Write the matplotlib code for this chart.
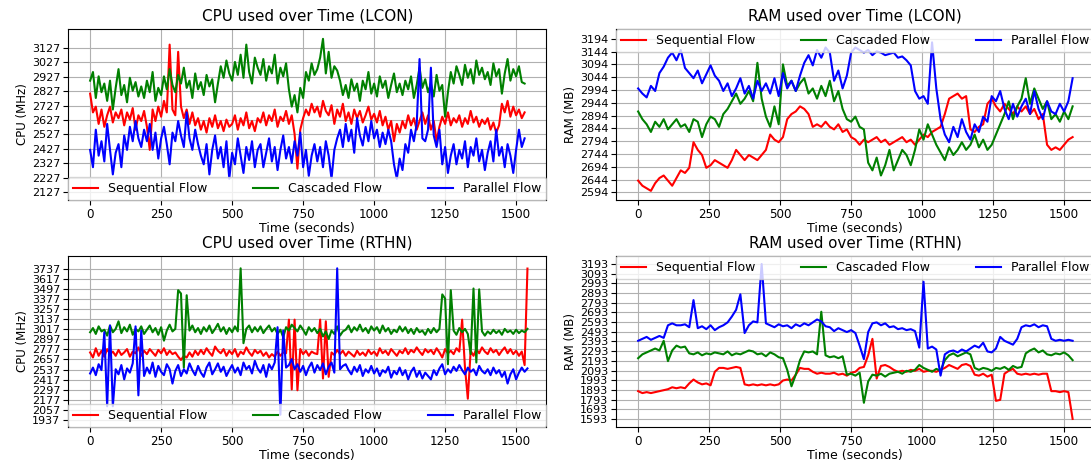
import numpy as np
import matplotlib
matplotlib.use('Agg')
import matplotlib.pyplot as plt

cpu_step = 10
ram_step = 15

# ---- LCON CPU (MHz)
cpu_lcon_seq = [
    2810, 2680, 2720, 2600, 2700, 2580, 2660, 2720, 2610, 2680,
    2640, 2700, 2590, 2680, 2630, 2710, 2560, 2660, 2620, 2690,
    2580, 2420, 2700, 2620, 2720, 2650, 2760, 2680, 3150, 2700,
    2660, 3100, 2720, 2640, 2700, 2600, 2680, 2590, 2640, 2560,
    2620, 2540, 2640, 2580, 2660, 2570, 2620, 2550, 2630, 2580,
    2600, 2660, 2560, 2640, 2590, 2680, 2570, 2620, 2550, 2640,
    2610, 2680, 2590, 2660, 2620, 2700, 2580, 2650, 2620, 2690,
    2600, 2660, 2530, 2290, 2560, 2640, 2700, 2660, 2740, 2680,
    2720, 2650, 2760, 2690, 2660, 2730, 2600, 2700, 2650, 2740,
    2620, 2680, 2600, 2700, 2640, 2690, 2610, 2660, 2720, 2630,
    2670, 2610, 2690, 2590, 2650, 2560, 2620, 2480, 2600, 2540,
    2620, 2570, 2660, 2590, 2640, 2560, 2620, 2680, 2600, 2660,
    2560, 2620, 2480, 2580, 2650, 2600, 2680, 2590, 2640, 2610,
    2660, 2580, 2640, 2600, 2690, 2610, 2650, 2580, 2630, 2600,
    2640, 2560, 2610, 2540, 2590, 2740, 2680, 2760, 2650, 2720,
    2660, 2700, 2640, 2680]
cpu_lcon_cas = [
    2900, 2960, 2780, 2930, 2820, 2880, 2760, 2900, 2700, 2850,
    2980, 2800, 2870, 2750, 2920, 2830, 2890, 2790, 2860, 2780,
    2900, 2820, 2960, 2760, 2850, 2800, 2930, 2840, 2980, 2870,
    2820, 2940, 2880, 2990, 2850, 2900, 2780, 2950, 2840, 2890,
    2800, 2940, 2860, 2910, 2750, 2880, 3000, 2920, 3040, 2950,
    2900, 3030, 2940, 3080, 2920, 3150, 2960, 2880, 3060, 2990,
    2940, 3050, 2900, 3000, 2950, 3080, 2880, 2990, 2930, 3020,
    2840, 2720, 2800, 2680, 2850, 2780, 2960, 2900, 3020, 2940,
    2980, 3060, 3190, 2950, 3100, 2920, 3000, 2970, 2900, 2800,
    2870, 2780, 2910, 2830, 2880, 2760, 2900, 2840, 2960, 2810,
    2880, 2790, 2930, 2850, 2900, 2780, 2870, 2950, 2820, 2880,
    2800, 2900, 2840, 2930, 2780, 2870, 2990, 2850, 2910, 2820,
    2880, 2790, 2940, 2830, 2870, 2650, 2820, 2960, 2880, 3000,
    2940, 2870, 3010, 2920, 2980, 2880, 3040, 2940, 2990, 2910,
    2960, 2870, 3020, 2930, 2980, 2810, 2950, 3050, 2900, 2980,
    2930, 3000, 2890, 2880]
cpu_lcon_par = [
    2420, 2300, 2560, 2380, 2480, 2340, 2600, 2420, 2250, 2400,
    2460, 2300, 2520, 2420, 2580, 2480, 2620, 2500, 2440, 2560,
    2480, 2600, 2420, 2540, 2360, 2500, 2580, 2460, 2320, 2540,
    2480, 2620, 2520, 2440, 2680, 2500, 2420, 2560, 2460, 2380,
    2320, 2460, 2250, 2420, 2520, 2360, 2440, 2300, 2480, 2220,
    2400, 2320, 2500, 2380, 2260, 2440, 2350, 2480, 2300, 2420,
    2460, 2300, 2400, 2500, 2340, 2440, 2280, 2420, 2520, 2360,
    2440, 2330, 2480, 2380, 2540, 2300, 2420, 2240, 2380, 2460,
    2340, 2440, 2300, 2480, 2380, 2220, 2420, 2500, 2560, 2440,
    2600, 2480, 2560, 2400, 2640, 2520, 2450, 2580, 2480, 2620,
    2500, 2560, 2440, 2540, 2460, 2560, 2480, 2320, 2220, 2360,
    2280, 2460, 2400, 2560, 2480, 2600, 3050, 2500, 2480, 2560,
    2990, 2520, 2440, 2560, 2320, 2440, 2260, 2380, 2460, 2320,
    2420, 2360, 2480, 2300, 2440, 2380, 2500, 2340, 2420, 2280,
    2400, 2480, 2340, 2560, 2380, 2440, 2300, 2460, 2380, 2260,
    2420, 2560, 2440, 2500]

# ---- LCON RAM (MB)
ram_lcon_seq = [
    2640, 2620, 2610, 2600, 2630, 2650, 2660, 2640, 2620, 2650,
    2680, 2670, 2690, 2790, 2760, 2740, 2690, 2700, 2720, 2710,
    2700, 2690, 2720, 2760, 2740, 2720, 2740, 2730, 2720, 2740,
    2760, 2820, 2800, 2790, 2810, 2880, 2900, 2910, 2930, 2920,
    2900, 2850, 2860, 2850, 2870, 2850, 2840, 2860, 2830, 2840,
    2810, 2800, 2780, 2800, 2790, 2800, 2810, 2790, 2800, 2780,
    2790, 2800, 2810, 2790, 2800, 2780, 2800, 2820, 2810, 2830,
    2840, 2850, 2900, 2960, 2970, 2980, 2960, 2970, 2840, 2830,
    2850, 2860, 2940, 2960, 2930, 2910, 2940, 2920, 2900, 2930,
    2910, 2930, 2900, 2920, 2880, 2900, 2780, 2760, 2770, 2760,
    2780, 2800, 2810]
ram_lcon_cas = [
    2910, 2880, 2860, 2830, 2870, 2850, 2880, 2840, 2860, 2880,
    2850, 2860, 2830, 2880, 2870, 2810, 2860, 2890, 2880, 2850,
    2900, 2920, 2950, 2980, 2940, 2960, 2990, 2950, 3100, 2960,
    2890, 2850, 2930, 2860, 3094, 3010, 3030, 2990, 3020, 3040,
    2980, 3000, 2960, 3010, 2970, 3030, 2950, 2990, 2920, 2880,
    2870, 2890, 2850, 2840, 2710, 2680, 2730, 2660, 2700, 2760,
    2680, 2720, 2760, 2740, 2700, 2760, 2840, 2800, 2860, 2820,
    2780, 2750, 2720, 2770, 2740, 2760, 2790, 2760, 2780, 2820,
    2770, 2800, 2760, 2780, 2820, 2860, 2900, 2950, 2880, 2930,
    2960, 3040, 2940, 3000, 2960, 2920, 2950, 2880, 2900, 2870,
    2910, 2880, 2930]
ram_lcon_par = [
    3000, 2980, 2965, 3010, 2990, 3060, 3085, 3120, 3140, 3110,
    3150, 3080, 3060, 3040, 3070, 3020, 3055, 3090, 3050, 3030,
    2990, 3020, 2970, 3000, 3040, 2980, 3010, 2960, 3030, 2990,
    3020, 2980, 3040, 2970, 3060, 3000, 3030, 2990, 3050, 3100,
    3130, 3090, 3150, 3120, 3160, 3140, 3030, 3070, 3000, 3050,
    3140, 3160, 3150, 3140, 3150, 3130, 3145, 3140, 3130, 3135,
    3140, 3120, 3125, 3110, 3090, 2990, 2960, 2970, 2940, 3180,
    3000, 2880, 2820, 2790, 2850, 2810, 2880, 2830, 2800, 2860,
    2830, 2890, 2870, 2970, 2950, 2990, 2920, 2880, 2940, 2890,
    2930, 2960, 2900, 2990, 2920, 2880, 2950, 2910, 2900, 2940,
    2910, 2950, 3040]

# ---- RTHN CPU (MHz)
cpu_rthn_seq = [
    2740, 2680, 2790, 2700, 2760, 2690, 2780, 2720, 2750, 2700,
    2770, 2710, 2740, 2780, 2690, 2750, 2730, 2800, 2700, 2760,
    2720, 2780, 2740, 2700, 2770, 2730, 2790, 2710, 2760, 2720,
    2740, 2690, 2650, 2700, 2680, 2740, 2690, 2760, 2710, 2770,
    2720, 2790, 2740, 2700, 2810, 2760, 2730, 2780, 2700, 2760,
    2720, 2780, 2690, 2750, 2720, 2800, 2740, 2700, 2770, 2730,
    2760, 2700, 2740, 2680, 2720, 2690, 2750, 2700, 2740, 2730,
    3130, 2300, 3130, 2290, 2780, 2720, 2760, 2700, 2750, 2730,
    2720, 3130, 2430, 3110, 2450, 2740, 2710, 2770, 2720, 2760,
    2700, 2750, 2720, 2690, 2760, 2710, 2740, 2700, 2770, 2720,
    2750, 2700, 2790, 2730, 2760, 2710, 2780, 2740, 2700, 2760,
    2730, 2790, 2720, 2770, 2740, 2800, 2750, 2710, 2780, 2740,
    2770, 2720, 2790, 2740, 2680, 2780, 2730, 2760, 2720, 2790,
    2750, 3130, 2560, 2190, 2760, 2700, 2780, 2730, 2800, 2750,
    2720, 2790, 2740, 2770, 2710, 2760, 2800, 2730, 2780, 2720,
    2760, 2700, 2750, 2590, 3737]
cpu_rthn_cas = [
    2980, 3030, 2960, 3050, 2990, 3010, 2940, 3060, 2980, 3020,
    3110, 2970, 3040, 2990, 3070, 2950, 3020, 2990, 3050, 2960,
    3010, 3060, 2980, 3030, 2950, 3040, 2880, 3000, 3070, 2990,
    3020, 3480, 3440, 2560, 3420, 3000, 3060, 2980, 3030, 2960,
    3040, 2990, 3060, 2970, 3020, 3080, 2990, 3040, 2960, 3030,
    2980, 3050, 2990, 3740, 2850, 3020, 3060, 2980, 3040, 2990,
    3050, 2970, 3020, 3060, 2990, 3030, 2960, 3010, 2920, 3040,
    3000, 3070, 3030, 2990, 3060, 3010, 2950, 3040, 2990, 3030,
    2970, 3020, 2930, 2990, 2900, 3000, 2960, 3050, 2940, 2990,
    3010, 3060, 2980, 3040, 3000, 3070, 2990, 3030, 2970, 3050,
    3000, 3040, 2970, 3060, 2990, 3030, 2960, 3010, 2980, 3050,
    2990, 3040, 2970, 3020, 2960, 3030, 2980, 3000, 2950, 3020,
    2970, 3030, 2980, 3020, 3430, 3380, 2600, 3480, 3000, 2950,
    3030, 2980, 3020, 2960, 2720, 3500, 2620, 3490, 2990, 2940,
    2990, 2960, 3010, 2970, 3000, 2950, 3020, 2980, 3000, 2960,
    3010, 2970, 3000, 2980, 3020]
cpu_rthn_par = [
    2490, 2560, 2470, 2600, 2530, 2980, 2100, 3060, 2100, 2540,
    2480, 2590, 2420, 2550, 2500, 2610, 3050, 2230, 3000, 2460,
    2560, 2490, 2620, 2450, 2580, 2510, 2470, 2600, 2540, 2370,
    2520, 2590, 2460, 2540, 2490, 2610, 2530, 2470, 2580, 2500,
    2450, 2560, 2620, 2480, 2540, 2610, 2510, 2570, 2460, 2530,
    2590, 2500, 2560, 2470, 2620, 2540, 2580, 2490, 2640, 2550,
    2500, 2590, 2450, 2600, 2540, 2620, 3040, 2000, 3000, 2560,
    2590, 2660, 2540, 2600, 2510, 2580, 2470, 2560, 2620, 2500,
    2590, 2530, 2610, 2480, 2570, 2620, 2500, 3740, 2540, 2580,
    2600, 2530, 2480, 2570, 2510, 2590, 2460, 2540, 2500, 2580,
    2490, 2550, 2460, 2530, 2500, 2570, 2440, 2520, 2480, 2560,
    2470, 2530, 2420, 2510, 2560, 2450, 2520, 2430, 2500, 2460,
    2420, 2530, 2470, 2550, 2600, 2480, 2540, 2500, 2570, 2520,
    2590, 2530, 2480, 2560, 2510, 2540, 2470, 2580, 2520, 2490,
    2540, 2470, 2560, 2490, 2530, 2450, 2510, 2370, 2480, 2540,
    2420, 2500, 2560, 2510, 2550]

# ---- RTHN RAM (MB)
ram_rthn_seq = [
    1880, 1860, 1870, 1860, 1870, 1880, 1890, 1900, 1920, 1910,
    1920, 1910, 1960, 2000, 1970, 1950, 1960, 1940, 2080, 2120,
    2120, 2110, 2120, 2130, 2120, 1950, 1940, 1950, 1940, 1950,
    1940, 1950, 1940, 1950, 1990, 2000, 1990, 2050, 2120, 2110,
    2110, 2080, 2060, 2070, 2060, 2060, 2070, 2050, 2060, 2040,
    2070, 2080, 2120, 2130, 2250, 2420, 2010, 2140, 2150, 2130,
    2100, 2080, 2090, 2080, 2100, 2090, 2110, 2080, 2090, 2090,
    2080, 2100, 2120, 2150, 2130, 2110, 2150, 2160, 2140, 2050,
    2040, 2060, 2030, 2050, 1780, 1790, 2060, 2090, 2110, 2060,
    2050, 2060, 2050, 2060, 2050, 2060, 2060, 1880, 1880, 1870,
    1880, 1870, 1593]
ram_rthn_cas = [
    2220, 2260, 2280, 2300, 2320, 2300, 2400, 2190, 2300, 2350,
    2330, 2340, 2270, 2260, 2280, 2250, 2270, 2260, 2280, 2270,
    2260, 2290, 2250, 2270, 2260, 2280, 2300, 2290, 2260, 2270,
    2240, 2280, 2260, 2230, 2220, 2100, 1930, 2050, 2200, 2290,
    2280, 2290, 2260, 2700, 2250, 2230, 2240, 2220, 2240, 2050,
    2060, 2040, 2070, 1760, 1980, 2050, 2040, 2060, 2030, 2060,
    2070, 2080, 2060, 2090, 2080, 2100, 2150, 2120, 2100, 2080,
    2110, 2090, 2200, 2250, 2270, 2240, 2260, 2280, 2260, 2120,
    2100, 2120, 2110, 2090, 2120, 2110, 2130, 2100, 2140, 2120,
    2130, 2270, 2300, 2320, 2280, 2300, 2260, 2250, 2270, 2260,
    2280, 2250, 2200]
ram_rthn_par = [
    2400, 2420, 2440, 2410, 2430, 2450, 2430, 2560, 2580, 2560,
    2560, 2570, 2540, 2820, 2530, 2550, 2520, 2560, 2510, 2540,
    2560, 2590, 2650, 2720, 2880, 2480, 2560, 2600, 2590, 3193,
    2580, 2560, 2540, 2570, 2550, 2560, 2530, 2570, 2550, 2580,
    2560, 2590, 2620, 2600, 2550, 2540, 2500, 2530, 2510, 2490,
    2510, 2480, 2350, 2210, 2490, 2580, 2590, 2560, 2580, 2540,
    2550, 2520, 2530, 2510, 2520, 2500, 2330, 3010, 2320, 2340,
    2310, 2040, 2260, 2290, 2300, 2280, 2310, 2290, 2320, 2350,
    2330, 2380, 2290, 2280, 2320, 2440, 2400, 2380, 2360, 2420,
    2540, 2560, 2550, 2570, 2540, 2560, 2550, 2420, 2400, 2410,
    2400, 2410, 2400]

labels = ['Sequential Flow', 'Cascaded Flow', 'Parallel Flow']
colors = ['red', 'green', 'blue']
time_ticks = [0, 250, 500, 750, 1000, 1250, 1500]

# tick values as shown on the y axes
cpu_lcon_ticks = np.arange(2127, 3128, 100)
ram_lcon_ticks = np.arange(2594, 3195, 50)
cpu_rthn_ticks = np.arange(1937, 3738, 120)
ram_rthn_ticks = np.arange(1593, 3194, 100)


def panel(rect, series, step, title, ylabel, yticks, ylim, legend_loc):
    ax = fig.add_axes(rect)
    for vals, lab, col in zip(series, labels, colors):
        t = np.arange(len(vals)) * step
        ax.plot(t, vals, color=col, lw=1.5, label=lab)
    ax.set_title(title, fontsize=10.9)
    ax.set_xlabel('Time (seconds)', fontsize=9, labelpad=1)
    ax.set_ylabel(ylabel, fontsize=8.5, labelpad=2)
    ax.set_xticks(time_ticks)
    ax.set_yticks(yticks)
    ax.set_ylim(ylim)
    ax.set_xlim(-78, 1607)
    ax.tick_params(axis='x', labelsize=8.6, pad=2)
    ax.tick_params(axis='y', labelsize=8.0, pad=2)
    ax.grid(True, color='#b0b0b0', lw=0.8)
    ax.legend(loc=legend_loc, bbox_to_anchor=(0, 0, 1, 1), mode='expand',
              ncol=3, borderaxespad=0, fontsize=9)
    return ax


fig = plt.figure(figsize=(10.91, 4.61), dpi=100)

panel([0.0623, 0.566, 0.4386, 0.371], [cpu_lcon_seq, cpu_lcon_cas, cpu_lcon_par],
      cpu_step, 'CPU used over Time (LCON)', 'CPU (MHz)', cpu_lcon_ticks,
      (2072, 3258), 'lower left')
panel([0.5646, 0.566, 0.4386, 0.371], [ram_lcon_seq, ram_lcon_cas, ram_lcon_par],
      ram_step, 'RAM used over Time (LCON)', 'RAM (MB)', ram_lcon_ticks,
      (2564, 3232), 'upper left')
panel([0.0623, 0.0738, 0.4386, 0.371], [cpu_rthn_seq, cpu_rthn_cas, cpu_rthn_par],
      cpu_step, 'CPU used over Time (RTHN)', 'CPU (MHz)', cpu_rthn_ticks,
      (1854, 3887), 'lower left')
panel([0.5646, 0.0738, 0.4386, 0.371], [ram_rthn_seq, ram_rthn_cas, ram_rthn_par],
      ram_step, 'RAM used over Time (RTHN)', 'RAM (MB)', ram_rthn_ticks,
      (1510, 3276), 'upper left')

fig.savefig('out.png', dpi=100)
